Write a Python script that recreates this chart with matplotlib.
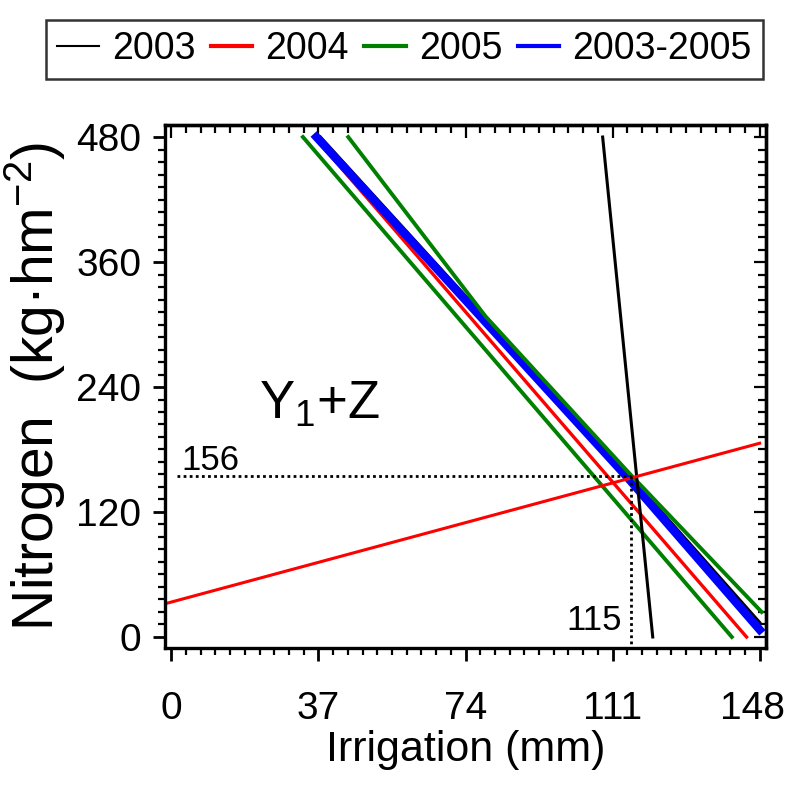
import matplotlib
matplotlib.use("Agg")
import matplotlib.pyplot as plt
import matplotlib.transforms as mtransforms
from matplotlib.ticker import MultipleLocator

plt.rcParams['font.family'] = ['Liberation Sans', 'DejaVu Sans']
plt.rcParams['mathtext.fontset'] = 'custom'
plt.rcParams['mathtext.rm'] = 'Liberation Sans'
plt.rcParams['mathtext.it'] = 'Liberation Sans:italic'
plt.rcParams['mathtext.bf'] = 'Liberation Sans:bold'

# contour lines: irrigation (mm) vs nitrogen (kg/hm2)
irr_2003_a = [37.5, 115, 148]
nit_2003_a = [480, 156, 14]
irr_2003_b = [108.5, 121.1]
nit_2003_b = [480, 0]
irr_2004_a = [36, 144.7]
nit_2004_a = [480, 0]
irr_2004_b = [-1.5, 148]
nit_2004_b = [32, 186]
irr_2005_a = [33.1, 141]
nit_2005_a = [480, 0]
irr_2005_b = [44.5, 79, 115, 148.5]
nit_2005_b = [480, 308, 158, 24]
irr_all = [36.5, 115, 148]
nit_all = [480, 152, 7]

opt_irr = 115.7
opt_nit = 155
opt_irr_label = '115'
opt_nit_label = '156'

xticks = [0, 37, 74, 111, 148]
yticks = [0, 120, 240, 360, 480]

fig = plt.figure(figsize=(7.88, 7.87), dpi=100)
ax = fig.add_axes([0.2094, 0.1766, 0.7627, 0.6645])

ax.plot(irr_2003_a, nit_2003_a, color='black', lw=2.2)
ax.plot(irr_2004_a, nit_2004_a, color='red', lw=2.4)
ax.plot(irr_all, nit_all, color='blue', lw=6)
ax.plot(irr_2005_a, nit_2005_a, color='green', lw=2.8)
ax.plot(irr_2005_b, nit_2005_b, color='green', lw=2.8)
ax.plot(irr_2003_b, nit_2003_b, color='black', lw=2.2)
ax.plot(irr_2004_b, nit_2004_b, color='red', lw=2.2)

ax.plot([1.3, opt_irr], [opt_nit, opt_nit], color='black', lw=2, dashes=(1, 1.2))
ax.plot([opt_irr, opt_irr], [opt_nit, -11], color='black', lw=2, dashes=(1, 1.2))
ax.text(2.5, 160, opt_nit_label, fontsize=25, ha='left', va='baseline')
ax.text(113.3, 6.5, opt_irr_label, fontsize=25, ha='right', va='baseline')
ax.text(22, 210, 'Y$_{1}$+Z', fontsize=38, ha='left', va='baseline')

ax.set_xlim(-1.6, 149.6)
ax.set_ylim(-10.6, 491.5)
ax.set_xticks(xticks)
ax.set_yticks(yticks)
ax.xaxis.set_minor_locator(MultipleLocator(3.7))
ax.yaxis.set_minor_locator(MultipleLocator(12))
ax.tick_params(which='major', direction='out', length=9, width=2, labelsize=28)
ax.tick_params(axis='x', which='major', pad=22)
ax.tick_params(axis='y', which='major', pad=8)
ax.tick_params(which='minor', direction='out', length=5, width=1.6)
ax.tick_params(top=False, right=False, which='both')
for sp in ax.spines.values():
    sp.set_linewidth(2.4)

# last x label sits against the right edge, pull it in a little
last = ax.get_xticklabels()[-1]
last.set_transform(last.get_transform() + mtransforms.ScaledTranslation(-5 / 72, 0, fig.dpi_scale_trans))

top = ax.secondary_xaxis('top')
top.set_xticks(xticks)
top.xaxis.set_minor_locator(MultipleLocator(3.7))
top.tick_params(which='major', direction='in', length=9, width=1.6, labeltop=False)
top.tick_params(which='minor', direction='in', length=6, width=1.6)
top.spines['top'].set_linewidth(2.4)

right = ax.secondary_yaxis('right')
right.set_yticks(yticks)
right.yaxis.set_minor_locator(MultipleLocator(12))
right.tick_params(which='major', direction='in', length=9, width=1.6, labelright=False)
right.tick_params(which='minor', direction='in', length=6, width=1.6)
right.spines['right'].set_linewidth(2.4)

ax.set_xlabel('Irrigation (mm)', fontsize=31, labelpad=2)
ax.set_ylabel('Nitrogen  (kg·hm$^{-2}$)', fontsize=41, labelpad=6)

handles = [
    plt.Line2D([], [], color='black', lw=1.5),
    plt.Line2D([], [], color='red', lw=3),
    plt.Line2D([], [], color='green', lw=3),
    plt.Line2D([], [], color='blue', lw=3),
]
labels = ['2003', '2004', '2005', '2003-2005']
leg = fig.legend(handles, labels, ncol=4, loc='center',
                 bbox_to_anchor=(0.0584, 0.8895, 0.9098, 0.0953), mode='expand',
                 fontsize=27, frameon=True, fancybox=False, handlelength=1.1,
                 handletextpad=0.35, columnspacing=0.5, borderaxespad=0, borderpad=0.3)
leg.get_frame().set_edgecolor('black')
leg.get_frame().set_linewidth(1.8)

fig.savefig('out.png', dpi=100)
